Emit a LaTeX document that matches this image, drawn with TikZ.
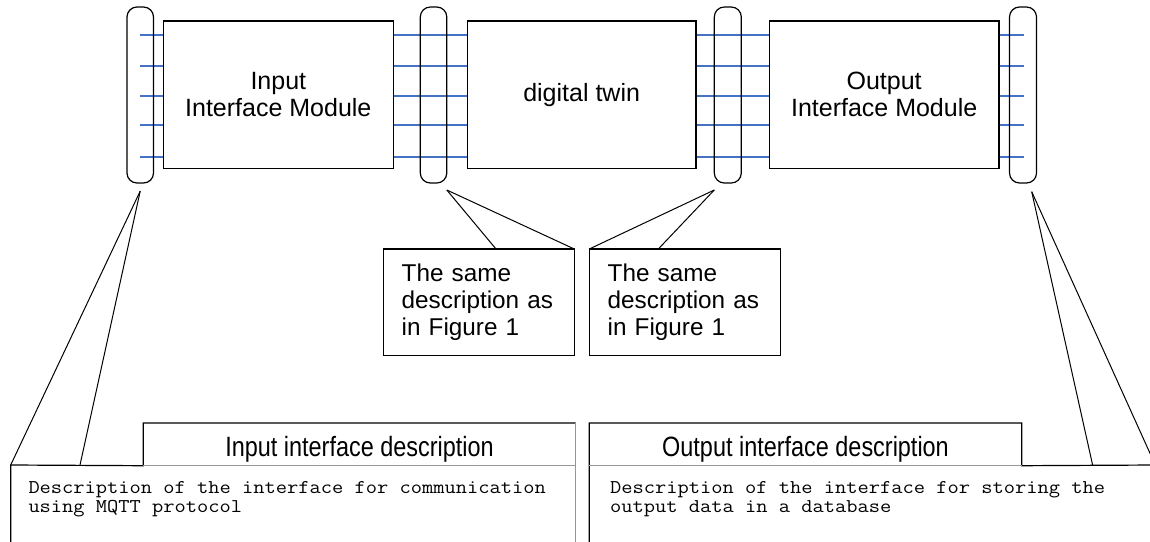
\documentclass[tikz,border=0pt]{standalone}
\usepackage{fontspec}
\setmainfont{Liberation Sans}
\setmonofont[FakeStretch=1.12]{Latin Modern Mono}
\newfontfamily\headfont[FakeStretch=0.84]{Liberation Sans}
\usetikzlibrary{calc,backgrounds}
\definecolor{wireblue}{RGB}{68,114,196}
\definecolor{edgegray}{RGB}{150,150,150}
\tikzset{
  port/.style={draw, rounded corners=10pt, line width=1.2pt, minimum width=26.5pt,
    minimum height=176pt, inner sep=0pt, outer sep=0pt, anchor=north west},
  module/.style={draw, line width=1.2pt, minimum height=147.3pt, inner sep=0pt,
    outer sep=0pt, anchor=north west, align=center,
    font=\fontsize{25}{26.7}\selectfont},
  note/.style={draw, line width=1.1pt, minimum width=191pt, minimum height=106.7pt,
    inner xsep=18.4pt, inner ysep=0pt, outer sep=0pt, text width=154.2pt,
    align=left, anchor=north west, font=\fontsize{24.3}{27.3}\selectfont},
  wire/.style={draw=wireblue, line width=2pt},
  callout/.style={draw, line width=1pt},
  tab/.style={minimum width=432.4pt, minimum height=42.7pt, inner sep=0pt,
    outer sep=0pt, anchor=north west, text height=24.8pt, text depth=0pt,
    font=\headfont\fontsize{27.9}{30}\selectfont},
  body/.style={minimum height=100pt, inner sep=0pt, outer sep=0pt, anchor=north west},
  code/.style={inner sep=0pt, anchor=north west, align=left,
    font=\ttfamily\fontsize{19.5}{19.2}\selectfont},
  blackedge/.style={draw, line width=1.2pt},
  grayedge/.style={draw=edgegray, line width=1.2pt},
}
\begin{document}
\begin{tikzpicture}[x=1pt,y=-1pt]
\useasboundingbox (0,0) rectangle (1150,541);
\clip (0,0) rectangle (1150,541);

% interface ports
\node[port] (p1) at (127,7) {};
\node[port] (p2) at (420.3,7) {};
\node[port, minimum width=27pt] (p3) at (714.3,7) {};
\node[port, minimum width=27pt] (p4) at (1009.5,7) {};

% modules
\node[module, minimum width=230pt] (m1) at (163.3,21) {Input\\Interface Module};
\node[module, minimum width=228.7pt] (m2) at (467.3,21) {digital twin};
\node[module, minimum width=229.7pt] (m3) at (769.3,21) {Output\\Interface Module};

% signal wires
\coordinate (wl) at (140,0);
\coordinate (wr) at (1024,0);
\begin{scope}[on background layer]
\foreach \y in {35,66,96,125,157} {
  \draw[wire] (wl |- 0,\y) -- (m1.west |- 0,\y);
  \draw[wire] (m1.east |- 0,\y) -- (m2.west |- 0,\y);
  \draw[wire] (m2.east |- 0,\y) -- (m3.west |- 0,\y);
  \draw[wire] (m3.east |- 0,\y) -- (wr |- 0,\y);
}
\end{scope}

% notes for the inner ports
\node[note] (n1) at (383.3,249) {The same\\description as\\in Figure 1};
\node[note, minimum width=190.7pt] (n2) at (589.3,249) {The same\\description as\\in Figure 1};

% callout tips
\coordinate (t1) at ($(p1.south)+(0,8)$);
\coordinate (t2) at ($(p2.south east)+(0,7)$);
\coordinate (t3) at ($(p3.south west)+(0,7)$);
\coordinate (t4) at ($(p4.south)+(8.7,8.7)$);

\draw[callout] (t2) -- ($(n1.north west)+(112.7,0)$);
\draw[callout] (t2) -- (n1.north east);
\draw[callout] (t3) -- (n2.north west);
\draw[callout] (t3) -- ($(n2.north west)+(69,0)$);

% description panels
\node[tab] (intab) at (143.3,423) {Input interface description};
\node[tab] (outtab) at (589.3,423) {Output interface description};
\node[body, minimum width=565pt] (inbody) at (10.7,465) {};
\node[body, minimum width=566pt] (outbody) at (589.3,465) {};

\draw[blackedge] (inbody.south west) -- (inbody.north west) -- (intab.south west)
  -- (intab.north west) -- (intab.north east);
\draw[grayedge] (intab.north east) -- (inbody.south east);
\draw[grayedge] (intab.south west) -- (intab.south east);

\draw[blackedge] (outbody.south west) -- (outtab.north west) -- (outtab.north east)
  -- (outtab.south east) -- (outbody.north east);
\draw[grayedge] (outtab.south west) -- (outtab.south east);

\node[code] (intext) at (28.3,481.5)
  {Description of the interface for communication\\using MQTT protocol};
\node[code] (outtext) at (610,481.5)
  {Description of the interface for storing the\\output data in a database};

\draw[callout] (t1) -- (inbody.north west);
\draw[callout] (t1) -- ($(inbody.north west)+(69.3,0)$);
\draw[callout] (t4) -- ($(outbody.north east)+(-62.7,0)$);
\draw[callout] (t4) -- (outbody.north east);
\end{tikzpicture}
\end{document}
